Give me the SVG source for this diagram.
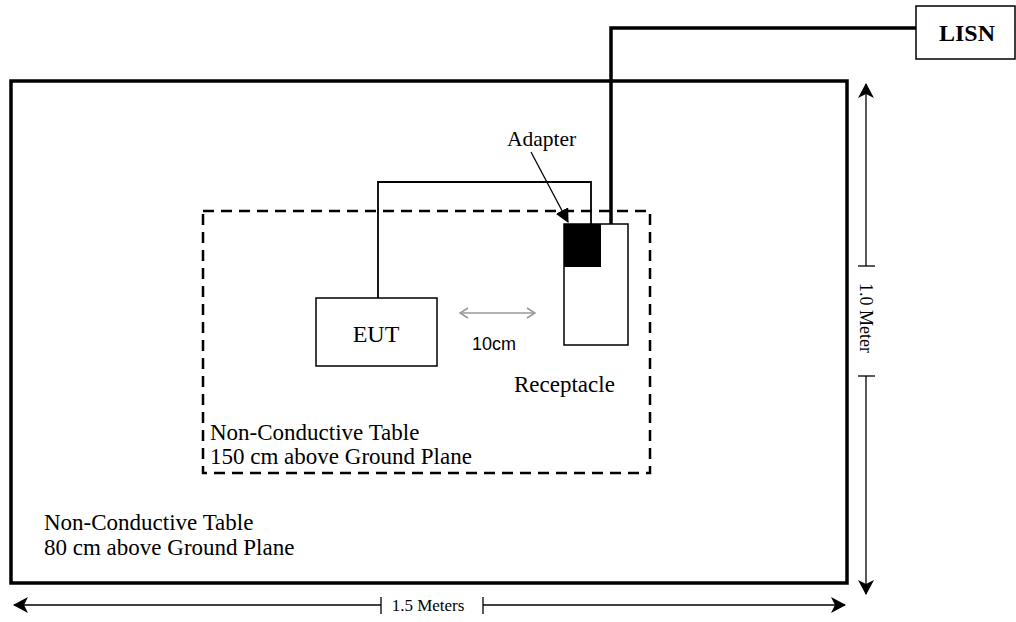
<svg xmlns="http://www.w3.org/2000/svg" width="1016" height="622" viewBox="0 0 1016 622">
<style>
.t{font-family:"Liberation Serif","Times New Roman",serif;fill:#000}
.box{fill:#fff;stroke:#000;stroke-width:1.5}
.wire{fill:none;stroke:#000}
.dim{fill:none;stroke:#000;stroke-width:1.3}
</style>
<defs>
<marker id="dh" viewBox="0 0 15 16" refX="14" refY="8" markerWidth="15" markerHeight="16" markerUnits="userSpaceOnUse" orient="auto-start-reverse">
<path d="M0,0 L15,8 L0,16 L4,8 z" fill="#000"/>
</marker>
<marker id="ah" viewBox="0 0 12 12" refX="11" refY="6" markerWidth="14" markerHeight="14" markerUnits="userSpaceOnUse" orient="auto">
<path d="M0,0 L12,6 L0,12 z" fill="#000"/>
</marker>
<marker id="gh" viewBox="0 0 10 12" refX="9" refY="6" markerWidth="10" markerHeight="12" markerUnits="userSpaceOnUse" orient="auto-start-reverse">
<path d="M1,1 L9,6 L1,11" fill="none" stroke="#999" stroke-width="1.6"/>
</marker>
</defs>
<rect width="1016" height="622" fill="#fff"/>
<g id="outer-table">
<rect x="11" y="81" width="836" height="502" fill="none" stroke="#000" stroke-width="3.5"/>
<text class="t" x="44" y="530" font-size="23">Non-Conductive Table</text>
<text class="t" x="44" y="555" font-size="23">80 cm above Ground Plane</text>
</g>
<g id="inner-table">
<rect x="203" y="211" width="447" height="262" fill="none" stroke="#000" stroke-width="2.5" stroke-dasharray="11 7"/>
<text class="t" x="210" y="440" font-size="23">Non-Conductive Table</text>
<text class="t" x="210" y="464" font-size="23">150 cm above Ground Plane</text>
</g>
<g id="connectors">
<polyline class="wire" stroke-width="1.8" points="378,298 378,182 591,182 591,224"/>
<polyline class="wire" stroke-width="3.5" points="916,28 611,28 611,224"/>
<line x1="531" y1="152" x2="568" y2="222" stroke="#000" stroke-width="1.3" marker-end="url(#ah)"/>
<line x1="460" y1="313" x2="535" y2="313" stroke="#999" stroke-width="1.6" marker-start="url(#gh)" marker-end="url(#gh)"/>
</g>
<g id="eut">
<rect class="box" x="316" y="298" width="121" height="68"/>
<text class="t" x="376" y="342" font-size="24" text-anchor="middle">EUT</text>
</g>
<text x="494" y="350" font-family="Liberation Sans, Arial, sans-serif" font-size="18" fill="#000" text-anchor="middle">10cm</text>
<g id="receptacle">
<rect class="box" x="564" y="224" width="64" height="121"/>
<rect x="564" y="224" width="37" height="43" fill="#000"/>
<text class="t" x="514" y="392" font-size="23">Receptacle</text>
</g>
<g id="adapter">
<text class="t" x="507" y="146" font-size="21.5">Adapter</text>
</g>
<g id="lisn">
<rect x="916" y="6" width="99" height="53" fill="#fff" stroke="#000" stroke-width="1.5"/>
<text class="t" x="967" y="41" font-size="24" font-weight="bold" text-anchor="middle">LISN</text>
</g>
<g id="dim-vertical">
<line class="dim" x1="866" y1="84" x2="866" y2="266" marker-start="url(#dh)"/>
<line class="dim" x1="866" y1="376" x2="866" y2="594" marker-end="url(#dh)"/>
<line class="dim" x1="858" y1="266" x2="875" y2="266"/>
<line class="dim" x1="858" y1="376" x2="875" y2="376"/>
<text class="t" font-size="18" transform="translate(860,318) rotate(90)" text-anchor="middle">1.0 Meter</text>
</g>
<g id="dim-horizontal">
<line class="dim" x1="14" y1="605" x2="381" y2="605" marker-start="url(#dh)"/>
<line class="dim" x1="483" y1="605" x2="845" y2="605" marker-end="url(#dh)"/>
<line class="dim" x1="381" y1="597" x2="381" y2="614"/>
<line class="dim" x1="483" y1="597" x2="483" y2="614"/>
<text class="t" x="428" y="611" font-size="17" text-anchor="middle">1.5 Meters</text>
</g>
</svg>
